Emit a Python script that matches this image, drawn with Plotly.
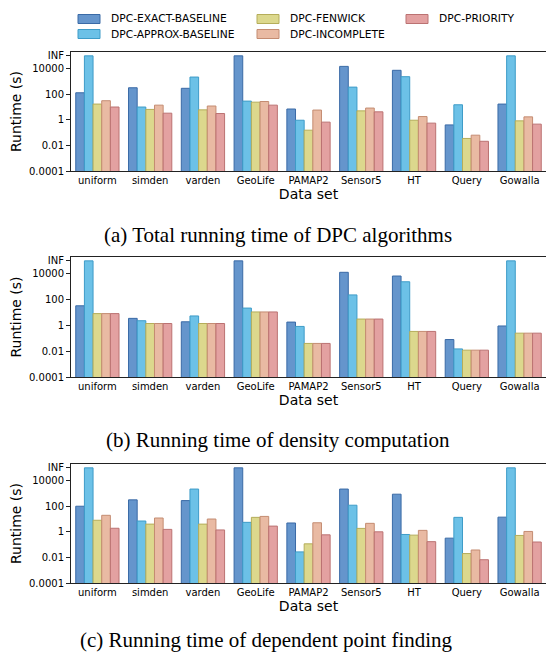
import plotly.graph_objects as go
from plotly.subplots import make_subplots

W, H = 546, 656

datasets = ["uniform", "simden", "varden", "GeoLife", "PAMAP2", "Sensor5", "HT", "Query", "Gowalla"]
methods = ["DPC-EXACT-BASELINE", "DPC-APPROX-BASELINE", "DPC-FENWICK", "DPC-INCOMPLETE", "DPC-PRIORITY"]
INF = 1e5  # plotted value for runs that did not finish

# (a) Total running time
total_exact = [130, 320, 290, INF, 7, 15000, 7400, 0.4, 17]
total_approx = [INF, 10, 2200, 29, 0.93, 360, 2350, 15, INF]
total_fenwick = [17, 6.5, 6, 24, 0.155, 5, 0.93, 0.035, 0.83]
total_incomplete = [31, 14, 12, 27, 5.8, 8.3, 1.8, 0.063, 1.7]
total_priority = [10, 3.3, 3.1, 14, 0.66, 4.2, 0.55, 0.021, 0.46]

# (b) Density computation
dens_exact = [33, 3.5, 1.9, INF, 1.8, 13000, 6700, 0.08, 0.9]
dens_approx = [INF, 2.3, 5.4, 22, 0.83, 230, 2400, 0.015, INF]
dens_fenwick = [8.2, 1.4, 1.4, 11, 0.04, 3.1, 0.34, 0.012, 0.25]
dens_incomplete = [8.2, 1.4, 1.4, 11, 0.04, 3.1, 0.34, 0.012, 0.25]
dens_priority = [8.2, 1.4, 1.4, 11, 0.04, 3.1, 0.34, 0.012, 0.25]

# (c) Dependent point finding
dep_exact = [100, 315, 275, INF, 4.9, 2200, 870, 0.32, 14]
dep_approx = [INF, 7, 2200, 5.5, 0.027, 120, 0.62, 13.5, INF]
dep_fenwick = [8, 4, 4, 13.5, 0.115, 1.85, 0.55, 0.02, 0.52]
dep_incomplete = [19.5, 12, 10, 16, 5.1, 4.6, 1.3, 0.038, 1.07]
dep_priority = [1.9, 1.55, 1.4, 2.8, 0.58, 1.0, 0.17, 0.0066, 0.16]

tick_vals = [1e-4, 1e-2, 1, 100, 1e4, 1e5]
tick_text = ["0.0001", "0.01", "1", "100", "10000", "INF"]

captions = ["(a) Total running time of DPC algorithms",
            "(b) Running time of density computation",
            "(c) Running time of dependent point finding"]

fills = ["rgba(88,140,200,0.92)", "rgba(100,190,230,0.95)", "rgba(218,214,135,0.95)",
         "rgba(232,182,158,0.95)", "rgba(226,156,156,0.95)"]
edges = ["#3a6aa6", "#3e9cc8", "#b5ad5a", "#c48c72", "#bb7272"]

panels = [
    [total_exact, total_approx, total_fenwick, total_incomplete, total_priority],
    [dens_exact, dens_approx, dens_fenwick, dens_incomplete, dens_priority],
    [dep_exact, dep_approx, dep_fenwick, dep_incomplete, dep_priority],
]

fig = make_subplots(rows=3, cols=1)

for r, series in enumerate(panels, start=1):
    for i, vals in enumerate(series):
        fig.add_trace(go.Bar(
            x=datasets, y=vals, name=methods[i], showlegend=False,
            marker=dict(color=fills[i], line=dict(color=edges[i], width=1)),
        ), row=r, col=1)

def py(px):
    return 1 - px / H

def pxx(px):
    return px / W

# pixel extents of the three plot areas (top, bottom)
areas = [(52, 171), (257, 377), (464, 583)]
axis_font = dict(family="DejaVu Sans", size=10, color="black")
for k, (top, bot) in enumerate(areas, start=1):
    sfx = "" if k == 1 else str(k)
    fig.layout["xaxis" + sfx].update(
        domain=[71 / W, 1.0], range=[-0.5, 8.5], showline=True, mirror=True,
        linecolor="#222", linewidth=1, ticks="", tickfont=axis_font,
        title=dict(text="Data set", font=dict(family="DejaVu Sans", size=14, color="black"), standoff=2),
        showgrid=False, zeroline=False, automargin=False,
    )
    fig.layout["yaxis" + sfx].update(
        domain=[py(bot), py(top)], type="log", range=[-4, 5.3],
        tickvals=tick_vals, ticktext=tick_text, ticks="outside", ticklen=4,
        tickcolor="#222", tickfont=axis_font, showline=True, mirror=True,
        linecolor="#222", linewidth=1, showgrid=False, zeroline=False,
        title=dict(text="Runtime (s)", font=dict(family="DejaVu Sans", size=14, color="black"), standoff=4),
        automargin=False,
    )

annotations = []
cap_pos = [(278, 235), (278, 440), (266, 640)]
for text, (cx, cy) in zip(captions, cap_pos):
    annotations.append(dict(text=text, x=pxx(cx), y=py(cy), xref="paper", yref="paper",
                            xanchor="center", yanchor="middle", showarrow=False,
                            font=dict(family="Liberation Serif", size=21, color="black")))

# legend drawn as swatches + text, arranged in columns like the original
legend_pos = [(78, 19), (78, 34), (257, 19), (257, 34), (406, 19)]
shapes = []
for i, (lx, ly) in enumerate(legend_pos):
    shapes.append(dict(type="rect", xref="paper", yref="paper",
                       x0=pxx(lx), x1=pxx(lx + 22), y0=py(ly + 4.5), y1=py(ly - 4.5),
                       fillcolor=fills[i], line=dict(color=edges[i], width=1)))
    annotations.append(dict(text=methods[i], x=pxx(lx + 31), y=py(ly), xref="paper", yref="paper",
                            xanchor="left", yanchor="middle", showarrow=False,
                            font=dict(family="DejaVu Sans", size=10.7, color="black")))

fig.update_layout(
    width=W, height=H, margin=dict(l=0, r=0, t=0, b=0),
    paper_bgcolor="white", plot_bgcolor="white",
    barmode="group", bargap=0.18, bargroupgap=0,
    annotations=annotations, shapes=shapes, showlegend=False,
)

fig.write_html("out.html", config={"displayModeBar": False},
               post_script="document.body.style.margin='0';document.body.style.overflow='hidden';")
